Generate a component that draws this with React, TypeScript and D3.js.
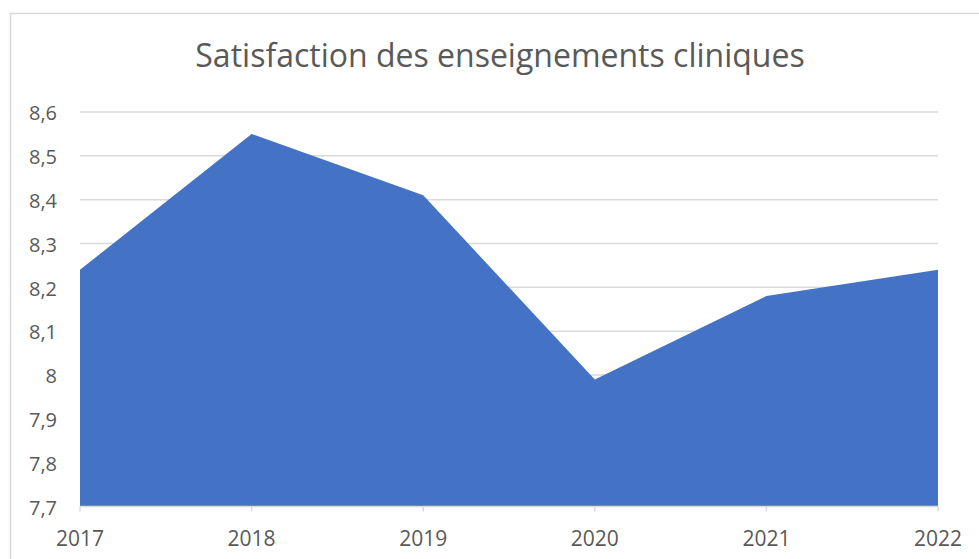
import React from "react";
import * as d3 from "d3";

const years = ["2017", "2018", "2019", "2020", "2021", "2022"];
const satisfaction = [8.24, 8.55, 8.41, 7.99, 8.18, 8.24];
const yTicks = [7.7, 7.8, 7.9, 8.0, 8.1, 8.2, 8.3, 8.4, 8.5, 8.6];
const title = "Satisfaction des enseignements cliniques";

const W = 979;
const H = 559;
const FONT = "'Open Sans', 'Noto Sans', sans-serif";

export default function App() {
  const x = d3.scalePoint<string>().domain(years).range([80, 938]);
  const y = d3.scaleLinear().domain([7.7, 8.6]).range([506.5, 112]);
  const data = years.map((yr, i) => ({ yr, v: satisfaction[i] }));
  const area = d3
    .area<{ yr: string; v: number }>()
    .x((d) => x(d.yr) as number)
    .y0(y(7.7))
    .y1((d) => y(d.v));
  const fmt = (v: number) => (Math.round(v * 10) / 10).toString().replace(".", ",");

  return (
    <div style={{ position: "fixed", left: 0, top: 0, width: W, height: H, background: "#fff" }}>
      <svg width={W} height={H} style={{ display: "block" }}>
        <rect x={0} y={0} width={W} height={H} fill="#fff" />
        <rect x={10.5} y={13.5} width={1000} height={600} fill="none" stroke="#d9d9d9" strokeWidth={1.5} />
        <text
          x={500}
          y={67}
          textAnchor="middle"
          fontFamily={FONT}
          fontSize={32}
          fill="#595959"
        >
          {title}
        </text>
        {yTicks.map((t) => (
          <g key={t}>
            {t > 7.7 && (
              <line x1={80} x2={938} y1={y(t)} y2={y(t)} stroke="#d9d9d9" strokeWidth={1.5} />
            )}
            <text
              x={57}
              y={y(t) + 1}
              dy="0.36em"
              textAnchor="end"
              fontFamily={FONT}
              fontSize={20}
              fill="#595959"
            >
              {fmt(t)}
            </text>
          </g>
        ))}
        <path d={area(data) || ""} fill="#4472C4" />
        <line x1={80} x2={938} y1={y(7.7)} y2={y(7.7)} stroke="#d9d9d9" strokeWidth={1.5} />
        {years.map((yr) => (
          <g key={yr}>
            <line x1={x(yr)} x2={x(yr)} y1={y(7.7)} y2={y(7.7) + 5} stroke="#d9d9d9" strokeWidth={1.5} />
            <text
              x={x(yr)}
              y={546}
              textAnchor="middle"
              fontFamily={FONT}
              fontSize={21}
              fill="#595959"
            >
              {yr}
            </text>
          </g>
        ))}
      </svg>
    </div>
  );
}
